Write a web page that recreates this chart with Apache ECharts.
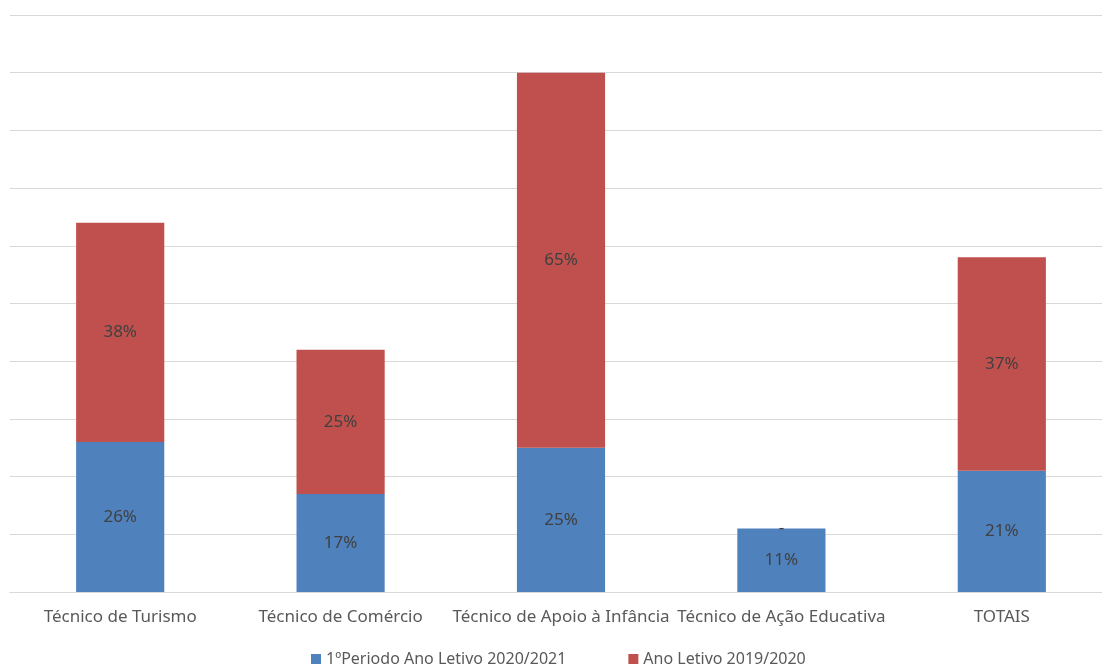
<!DOCTYPE html>
<html>
<head>
<meta charset="utf-8">
<script src="https://cdn.jsdelivr.net/npm/echarts@6/dist/echarts.min.js"></script>
<style>
html,body{margin:0;padding:0;background:#fff;overflow:hidden;}
#main{width:1112px;height:669px;}
</style>
</head>
<body>
<div id="main"></div>
<script>
var categories = ['Técnico de Turismo', 'Técnico de Comércio', 'Técnico de Apoio à Infância', 'Técnico de Ação Educativa', 'TOTAIS'];
var periodo2021 = [26, 17, 25, 11, 21];
var letivo2020 = [38, 25, 65, 0, 37];
var seriesNames = ['1ºPeriodo Ano Letivo 2020/2021', 'Ano Letivo 2019/2020'];

var fontName = 'Noto Sans';

function pctLabel(p) {
    return p.value === 0 ? '-' : p.value + '%';
}

var option = {
    animation: false,
    textStyle: {fontFamily: fontName},
    // the plot runs a little past the right edge of the picture
    grid: {left: 10, top: 15, right: 0, bottom: 77, containLabel: false},
    legend: {
        top: 651,
        left: 311,
        itemWidth: 10,
        itemHeight: 10,
        itemGap: 62,
        icon: 'rect',
        padding: 0,
        textStyle: {fontFamily: fontName, fontSize: 16, color: '#595959'},
        data: seriesNames
    },
    xAxis: {
        type: 'category',
        data: categories,
        axisLine: {lineStyle: {color: '#d9d9d9', width: 1}},
        axisTick: {show: false},
        axisLabel: {fontFamily: fontName, fontSize: 17, color: '#595959', margin: 17, interval: 0}
    },
    yAxis: {
        type: 'value',
        min: 0,
        max: 100,
        interval: 10,
        axisLabel: {show: false},
        axisLine: {show: false},
        axisTick: {show: false},
        splitLine: {lineStyle: {color: '#d9d9d9', width: 1}}
    },
    series: [
        {
            name: seriesNames[0],
            type: 'bar',
            stack: 'total',
            barWidth: '40%',
            data: periodo2021,
            itemStyle: {color: '#4f81bd'},
            label: {show: true, position: 'inside', formatter: pctLabel, fontFamily: fontName, fontSize: 17, color: '#404040'}
        },
        {
            name: seriesNames[1],
            type: 'bar',
            stack: 'total',
            barWidth: '40%',
            data: letivo2020,
            itemStyle: {color: '#c0504d'},
            label: {show: true, position: 'inside', formatter: pctLabel, fontFamily: fontName, fontSize: 17, color: '#404040'}
        }
    ]
};

var myChart = echarts.init(document.getElementById('main'));
myChart.setOption(option);
</script>
</body>
</html>
